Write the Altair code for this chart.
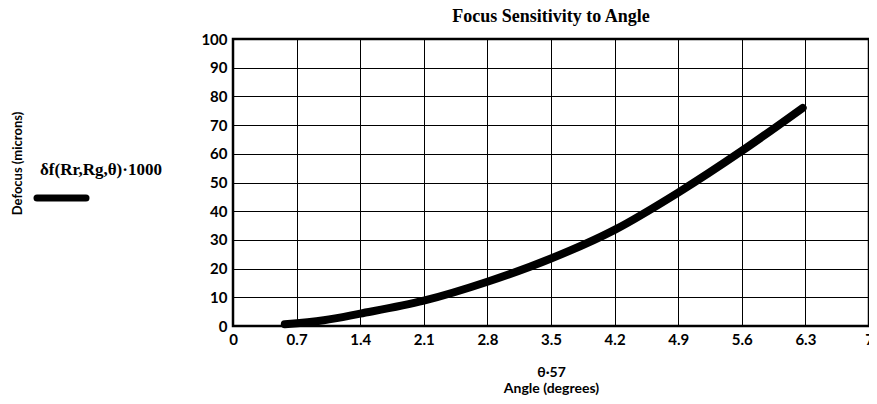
import altair as alt
import pandas as pd

angle_deg = [0.57, 1.0, 1.4, 2.1, 2.8, 3.5, 4.2, 4.9, 5.6, 6.27]
defocus_um = [0.6, 2.0, 4.3, 8.8, 15.4, 23.5, 33.5, 46.5, 61.0, 76.0]
x_ticks = [0, 0.7, 1.4, 2.1, 2.8, 3.5, 4.2, 4.9, 5.6, 6.3, 7]
y_ticks = [0, 10, 20, 30, 40, 50, 60, 70, 80, 90, 100]
legend_label = "δf(Rr,Rg,θ)·1000"

df = pd.DataFrame({"angle": angle_deg, "defocus": defocus_um})

SERIF = "Liberation Serif"
SANS = "Lato"

x_enc = alt.X(
    "angle:Q",
    scale=alt.Scale(domain=[0, 7], nice=False, zero=False),
    axis=alt.Axis(
        values=x_ticks,
        format=".1~f",
        title=["θ·57", "Angle (degrees)"],
        titleFont=SANS,
        titleFontSize=14,
        titleFontWeight="bold",
        titlePadding=18,
        titleColor="black",
        titleLineHeight=16,
        labelFont=SANS,
        labelFontSize=15,
        labelFontWeight="bold",
        labelColor="black",
        labelPadding=6,
        ticks=False,
        domain=False,
        grid=True,
        gridColor="black",
        gridWidth=1,
        labelFlush=False,
    ),
)
y_enc = alt.Y(
    "defocus:Q",
    scale=alt.Scale(domain=[0, 100], nice=False),
    axis=alt.Axis(
        values=y_ticks,
        title="Defocus (microns)",
        titleFont=SANS,
        titleFontSize=13,
        titleFontWeight="bold",
        titleColor="black",
        titleX=-216,
        titleY=124,
        titleAngle=-90,
        titleAlign="center",
        titleBaseline="middle",
        labelFont=SANS,
        labelFontSize=15,
        labelFontWeight="bold",
        labelColor="black",
        labelPadding=6,
        ticks=False,
        domain=False,
        grid=True,
        gridColor="black",
        gridWidth=1,
    ),
)

curve = alt.Chart(df).mark_line(
    color="black", strokeWidth=8, strokeCap="round", strokeJoin="round",
    interpolate="monotone"
).encode(x=x_enc, y=y_enc)

legend_text = alt.Chart(pd.DataFrame({"t": [legend_label]})).mark_text(
    font=SERIF, fontSize=17, fontWeight="bold", align="left", baseline="middle", color="black"
).encode(text="t:N", x=alt.value(-193), y=alt.value(131))

legend_line = alt.Chart(pd.DataFrame({"t": [legend_label]})).mark_rule(
    color="black", strokeWidth=7, strokeCap="round"
).encode(x=alt.value(-196), x2=alt.value(-147), y=alt.value(159))

chart = alt.layer(curve, legend_text, legend_line).properties(
    width=636,
    height=287,
    title=alt.TitleParams(
        "Focus Sensitivity to Angle",
        font=SERIF,
        fontSize=18,
        fontWeight="bold",
        color="black",
        anchor="middle",
        offset=6,
    ),
    autosize=alt.AutoSizeParams(type="none"),
    padding={"left": 225, "top": 31, "right": 0, "bottom": 70},
).configure(
    background="white",
    view=alt.ViewConfig(stroke="black", strokeWidth=2.5),
)

chart.save("out.html", embed_options={"renderer": "svg", "actions": False})
